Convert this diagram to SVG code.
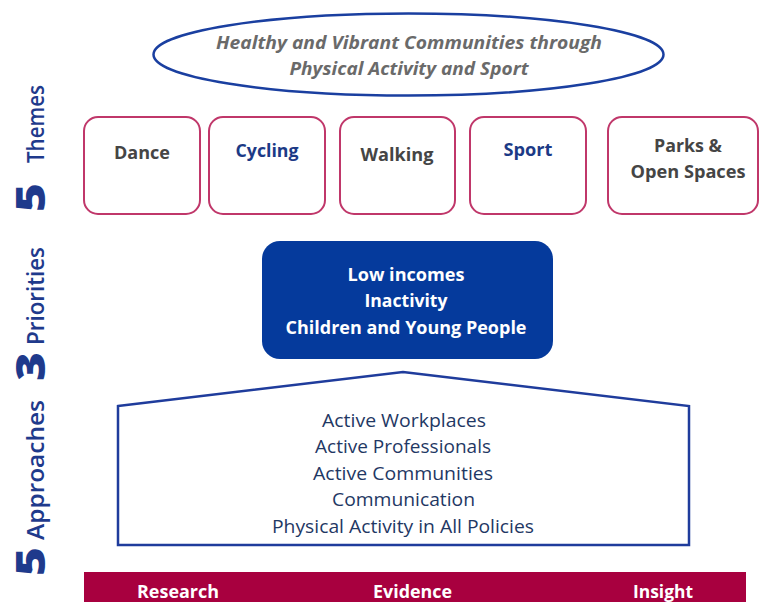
<svg xmlns="http://www.w3.org/2000/svg" width="762" height="602" viewBox="0 0 762 602">
  <style>
    text { font-family: "Open Sans", "Liberation Sans", sans-serif; }
    .side { fill: #1F3A8C; font-weight: 800; font-size: 41px; }
    .sideword { fill: #1F3A8C; font-weight: 600; font-size: 24px; }
    .theme { fill: #FFFFFF; stroke: #C0376A; stroke-width: 2; }
    .tgrey { fill: #454545; font-weight: bold; font-size: 18.5px; text-anchor: middle; }
    .tblue { fill: #1C3A86; font-weight: bold; font-size: 18.5px; text-anchor: middle; }
    .title { fill: #6A6A6A; font-weight: bold; font-style: italic; font-size: 18.5px; text-anchor: middle; }
    .prio { fill: #FFFFFF; font-weight: bold; font-size: 18.5px; text-anchor: middle; }
    .appr { fill: #1F3864; font-size: 18.5px; text-anchor: middle; }
    .bar { fill: #FFFFFF; font-weight: bold; font-size: 18.5px; text-anchor: middle; }
  </style>

  <rect width="762" height="602" fill="#FFFFFF"/>

  <!-- side captions, reading bottom to top -->
  <g id="side-labels">
    <text class="side" transform="translate(45,212) rotate(-90)" textLength="29" lengthAdjust="spacingAndGlyphs">5</text>
    <text class="sideword" transform="translate(44,163) rotate(-90)" textLength="78" lengthAdjust="spacingAndGlyphs">Themes</text>
    <text class="side" transform="translate(45,381) rotate(-90)" textLength="29" lengthAdjust="spacingAndGlyphs">3</text>
    <text class="sideword" transform="translate(44,345) rotate(-90)" textLength="98" lengthAdjust="spacingAndGlyphs">Priorities</text>
    <text class="side" transform="translate(45,576) rotate(-90)" textLength="29" lengthAdjust="spacingAndGlyphs">5</text>
    <text class="sideword" transform="translate(44,540) rotate(-90)" textLength="140" lengthAdjust="spacingAndGlyphs">Approaches</text>
  </g>

  <!-- vision ellipse -->
  <g id="vision">
    <ellipse cx="408.5" cy="54.5" rx="255" ry="41" fill="#FFFFFF" stroke="#1A3FA0" stroke-width="2.5"/>
    <text class="title" x="409" y="49" textLength="386" lengthAdjust="spacingAndGlyphs">Healthy and Vibrant Communities through</text>
    <text class="title" x="409" y="75" textLength="239" lengthAdjust="spacingAndGlyphs">Physical Activity and Sport</text>
  </g>

  <!-- five themes -->
  <g id="theme-dance">
    <rect class="theme" x="84" y="117" width="116" height="97" rx="14"/>
    <text class="tgrey" x="142" y="159" textLength="56" lengthAdjust="spacingAndGlyphs">Dance</text>
  </g>
  <g id="theme-cycling">
    <rect class="theme" x="209" y="117" width="116" height="97" rx="14"/>
    <text class="tblue" x="267" y="157" textLength="63" lengthAdjust="spacingAndGlyphs">Cycling</text>
  </g>
  <g id="theme-walking">
    <rect class="theme" x="340" y="117" width="115" height="97" rx="14"/>
    <text class="tgrey" x="397" y="161" textLength="73" lengthAdjust="spacingAndGlyphs">Walking</text>
  </g>
  <g id="theme-sport">
    <rect class="theme" x="470" y="117" width="116" height="97" rx="14"/>
    <text class="tblue" x="528" y="156" textLength="49" lengthAdjust="spacingAndGlyphs">Sport</text>
  </g>
  <g id="theme-parks">
    <rect class="theme" x="608" y="117" width="150" height="97" rx="14"/>
    <text class="tgrey" x="688" y="152" textLength="68" lengthAdjust="spacingAndGlyphs">Parks &amp;</text>
    <text class="tgrey" x="688" y="178" textLength="115" lengthAdjust="spacingAndGlyphs">Open Spaces</text>
  </g>

  <!-- three priorities -->
  <g id="priorities">
    <rect x="262" y="241" width="291" height="118" rx="18" fill="#053A9C"/>
    <text class="prio" x="406" y="281" textLength="117" lengthAdjust="spacingAndGlyphs">Low incomes</text>
    <text class="prio" x="406" y="307" textLength="83" lengthAdjust="spacingAndGlyphs">Inactivity</text>
    <text class="prio" x="406" y="334" textLength="241" lengthAdjust="spacingAndGlyphs">Children and Young People</text>
  </g>

  <!-- five approaches, house shape -->
  <g id="approaches">
    <polygon points="118,406 403,372 689,406 689,545 118,545" fill="#FFFFFF" stroke="#1F3C9C" stroke-width="2.5" stroke-linejoin="miter"/>
    <text class="appr" x="404" y="427" textLength="164" lengthAdjust="spacingAndGlyphs">Active Workplaces</text>
    <text class="appr" x="403" y="453" textLength="176" lengthAdjust="spacingAndGlyphs">Active Professionals</text>
    <text class="appr" x="403" y="480" textLength="180" lengthAdjust="spacingAndGlyphs">Active Communities</text>
    <text class="appr" x="403.5" y="506" textLength="143" lengthAdjust="spacingAndGlyphs">Communication</text>
    <text class="appr" x="403" y="533" textLength="262" lengthAdjust="spacingAndGlyphs">Physical Activity in All Policies</text>
  </g>

  <!-- foundation bar -->
  <g id="foundation">
    <rect x="84" y="572" width="662" height="32" fill="#A8003F"/>
    <text class="bar" x="178" y="598" textLength="82" lengthAdjust="spacingAndGlyphs">Research</text>
    <text class="bar" x="412.5" y="598" textLength="79" lengthAdjust="spacingAndGlyphs">Evidence</text>
    <text class="bar" x="663" y="598" textLength="60" lengthAdjust="spacingAndGlyphs">Insight</text>
  </g>

  <g id="connectors"></g>
</svg>
